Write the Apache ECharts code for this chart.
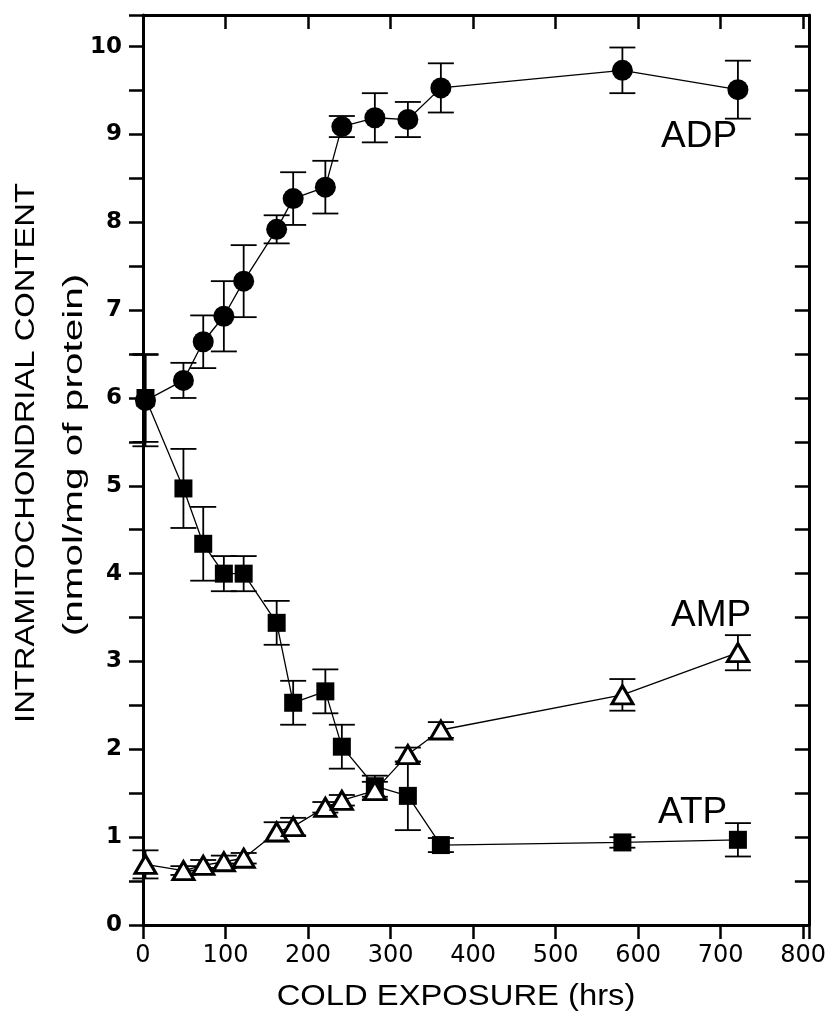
<!DOCTYPE html>
<html>
<head>
<meta charset="utf-8">
<script src="https://cdn.jsdelivr.net/npm/echarts@6/dist/echarts.min.js"></script>
<style>
  html, body { margin: 0; padding: 0; background: #fff; }
  #chart { width: 829px; height: 1017px; }
</style>
</head>
<body>
<div id="chart"></div>
<script>
// sampling times (hrs)
var hours = [3, 49, 73, 98, 122, 162, 182, 221, 241, 281, 321, 361, 581, 721];

// nmol/mg of protein, mean and error
var adp = [5.97, 6.2, 6.64, 6.93, 7.33, 7.92, 8.27, 8.4, 9.09, 9.19, 9.17, 9.53, 9.73, 9.51];
var adpErr = [0.52, 0.2, 0.3, 0.4, 0.41, 0.16, 0.3, 0.3, 0.12, 0.28, 0.2, 0.28, 0.26, 0.33];
var atp = [6.0, 4.97, 4.34, 4.0, 4.0, 3.44, 2.53, 2.66, 2.03, 1.58, 1.47, 0.91, 0.94, 0.97];
var atpErr = [0.5, 0.45, 0.42, 0.2, 0.2, 0.25, 0.25, 0.25, 0.25, 0.12, 0.39, 0.08, 0.06, 0.19];
var amp = [0.69, 0.62, 0.68, 0.72, 0.76, 1.06, 1.12, 1.34, 1.42, 1.53, 1.94, 2.22, 2.62, 3.1];
var ampErr = [0.16, 0.05, 0.06, 0.07, 0.06, 0.11, 0.1, 0.06, 0.06, 0.1, 0.08, 0.09, 0.18, 0.2];

var xTicks = [0, 100, 200, 300, 400, 500, 600, 700, 800];
var yTicks = [0, 1, 2, 3, 4, 5, 6, 7, 8, 9, 10];

var chart = echarts.init(document.getElementById('chart'));

function pairs(vals) {
  return hours.map(function (h, i) { return [h, vals[i]]; });
}
function errData(vals, errs) {
  return hours.map(function (h, i) { return [h, vals[i] - errs[i], vals[i] + errs[i]]; });
}

// vertical bar with caps
function errRender(params, api) {
  var x = api.value(0);
  var top = api.coord([x, api.value(2)]);
  var bot = api.coord([x, api.value(1)]);
  var w = 13;
  var st = { stroke: '#000', lineWidth: 1.8 };
  return {
    type: 'group',
    children: [
      { type: 'line', shape: { x1: top[0], y1: top[1], x2: bot[0], y2: bot[1] }, style: st },
      { type: 'line', shape: { x1: top[0] - w, y1: top[1], x2: top[0] + w, y2: top[1] }, style: st },
      { type: 'line', shape: { x1: bot[0] - w, y1: bot[1], x2: bot[0] + w, y2: bot[1] }, style: st }
    ]
  };
}

function errSeries(vals, errs) {
  return {
    type: 'custom',
    renderItem: errRender,
    data: errData(vals, errs),
    encode: { x: 0, y: [1, 2] },
    z: 2,
    silent: true
  };
}

function lineSeries(name, vals, symbol, size, fill, z) {
  return {
    name: name,
    type: 'line',
    data: pairs(vals),
    symbol: symbol,
    symbolSize: size,
    showAllSymbol: true,
    lineStyle: { color: '#000', width: 1.3 },
    itemStyle: { color: fill, borderColor: '#000', borderWidth: fill === '#fff' ? 3 : 0 },
    z: z,
    silent: true,
    animation: false
  };
}

var frame = { show: true, onZero: false, lineStyle: { color: '#000', width: 3 } };

var option = {
  backgroundColor: '#fff',
  animation: false,
  grid: { left: 143, right: 18, top: 15, bottom: 92 },
  xAxis: [
    {
      type: 'value',
      position: 'bottom',
      min: 0,
      max: 807,
      interval: 100,
      axisLine: frame,
      axisTick: { show: true, inside: false, length: 14, lineStyle: { color: '#000', width: 2.5 } },
      axisLabel: {
        margin: 19,
        fontSize: 24,
        fontFamily: 'DejaVu Sans',
        color: '#000',
        formatter: function (v) { return xTicks.indexOf(v) >= 0 ? String(v) : ''; }
      },
      splitLine: { show: false }
    },
    {
      type: 'value',
      position: 'top',
      min: 0,
      max: 807,
      interval: 100,
      axisLine: frame,
      axisTick: { show: true, inside: true, length: 14, lineStyle: { color: '#000', width: 2.5 } },
      axisLabel: { show: false },
      splitLine: { show: false }
    }
  ],
  yAxis: [
    {
      type: 'value',
      position: 'left',
      min: 0,
      max: 10.36,
      interval: 0.5,
      axisLine: frame,
      axisTick: { show: true, inside: false, length: 14, lineStyle: { color: '#000', width: 2.5 } },
      axisLabel: {
        margin: 21,
        fontSize: 23,
        fontWeight: 'bold',
        fontFamily: 'DejaVu Sans',
        color: '#000',
        formatter: function (v) { return yTicks.indexOf(v) >= 0 ? String(v) : ''; }
      },
      splitLine: { show: false }
    },
    {
      type: 'value',
      position: 'right',
      min: 0,
      max: 10.36,
      interval: 0.5,
      axisLine: frame,
      axisTick: { show: true, inside: true, length: 14, lineStyle: { color: '#000', width: 2.5 } },
      axisLabel: { show: false },
      splitLine: { show: false }
    }
  ],
  graphic: [
    {
      type: 'text', x: 26, y: 453, rotation: Math.PI / 2, scaleX: 1.17,
      style: { text: 'INTRAMITOCHONDRIAL CONTENT', fontSize: 28, fontFamily: 'Liberation Sans', fill: '#000', align: 'center', verticalAlign: 'middle' }
    },
    {
      type: 'text', x: 75, y: 455, rotation: Math.PI / 2, scaleX: 1.5,
      style: { text: '(nmol/mg of protein)', fontSize: 27, fontFamily: 'Liberation Sans', fill: '#000', align: 'center', verticalAlign: 'middle' }
    },
    {
      type: 'text', x: 456, y: 997, scaleX: 1.13,
      style: { text: 'COLD EXPOSURE (hrs)', fontSize: 29, fontFamily: 'Liberation Sans', fill: '#000', align: 'center', verticalAlign: 'middle' }
    },
    {
      type: 'text', x: 661, y: 137,
      style: { text: 'ADP', fontSize: 37, fontFamily: 'Liberation Sans', fill: '#000', align: 'left', verticalAlign: 'middle' }
    },
    {
      type: 'text', x: 671, y: 616,
      style: { text: 'AMP', fontSize: 37, fontFamily: 'Liberation Sans', fill: '#000', align: 'left', verticalAlign: 'middle' }
    },
    {
      type: 'text', x: 658, y: 813,
      style: { text: 'ATP', fontSize: 37, fontFamily: 'Liberation Sans', fill: '#000', align: 'left', verticalAlign: 'middle' }
    }
  ],
  series: [
    errSeries(adp, adpErr),
    errSeries(atp, atpErr),
    errSeries(amp, ampErr),
    lineSeries('ADP', adp, 'circle', 21, '#000', 3),
    lineSeries('ATP', atp, 'rect', 18, '#000', 4),
    lineSeries('AMP', amp, 'triangle', [21, 18], '#fff', 5)
  ]
};

chart.setOption(option);
</script>
</body>
</html>
